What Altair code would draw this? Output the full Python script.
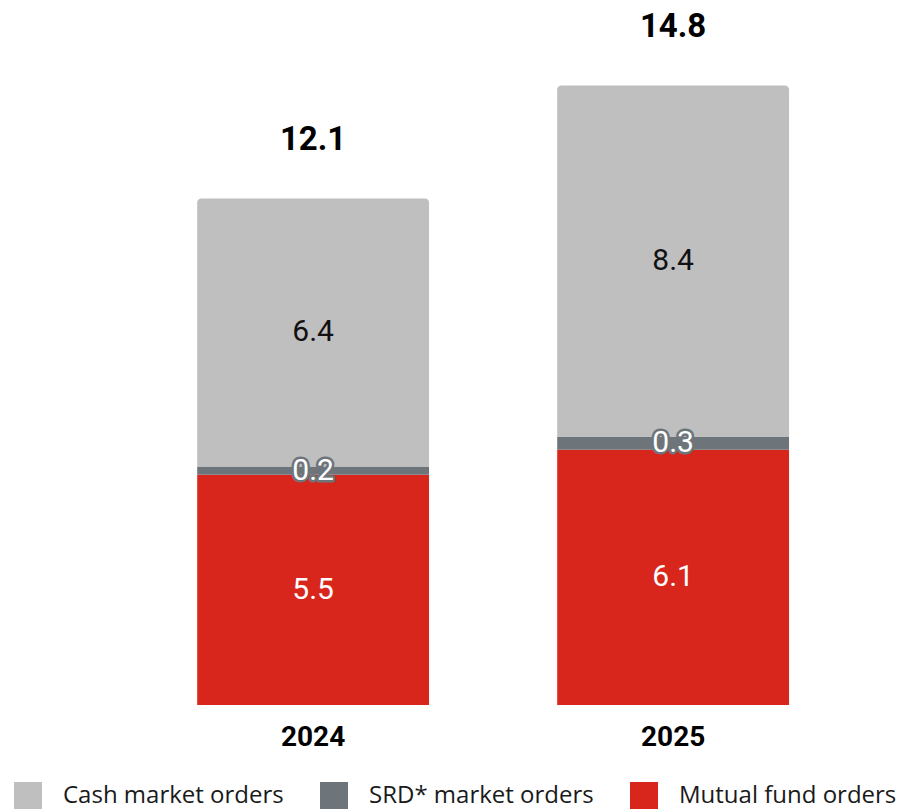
import altair as alt
import pandas as pd

years = ["2024", "2025"]
series = ["Cash market orders", "SRD* market orders", "Mutual fund orders"]
cash = [6.4, 8.4]
srd = [0.2, 0.3]
mutual = [5.5, 6.1]
colors = ["#bfbfbf", "#6e757a", "#d9261c"]

rows = []
for i, yr in enumerate(years):
    rows.append({"year": yr, "series": series[2], "value": mutual[i], "order": 0})
    rows.append({"year": yr, "series": series[1], "value": srd[i], "order": 1})
    rows.append({"year": yr, "series": series[0], "value": cash[i], "order": 2})
df = pd.DataFrame(rows)

xs = alt.Scale(paddingInner=0.356, paddingOuter=0.4238, align=0.62)
ys = alt.Scale(domain=[0, 16.65], nice=False, zero=True)

X = alt.X(
    "year:N", scale=xs, title=None, sort=years,
    axis=alt.Axis(domain=False, ticks=False, labelAngle=0, labelFont="Roboto",
                  labelFontSize=28, labelFontWeight="bold", labelColor="#000000",
                  labelPadding=18),
)

base = alt.Chart(df).transform_stack(
    stack="value", as_=["y0", "y1"], groupby=["year"], sort=[alt.SortField("order")]
).transform_calculate(mid="(datum.y0 + datum.y1) / 2")

color = alt.Color(
    "series:N",
    scale=alt.Scale(domain=series, range=colors),
    legend=alt.Legend(
        orient="none", legendX=6, legendY=774, direction="horizontal", title=None,
        symbolType="square", symbolSize=784, symbolStrokeWidth=0, symbolOpacity=1,
        labelFont="Open Sans", labelFontSize=24, labelColor="#1a1a1a",
        labelOffset=21, columnPadding=36, labelLimit=500, padding=0,
    ),
)

bars = base.transform_filter(alt.datum.series != series[0]).mark_bar().encode(
    x=X, y=alt.Y("y0:Q", scale=ys, axis=None), y2="y1:Q", color=color
)
bars_top = base.transform_filter(alt.datum.series == series[0]).mark_bar(
    cornerRadiusTopLeft=4, cornerRadiusTopRight=4
).encode(x=X, y=alt.Y("y0:Q", scale=ys, axis=None), y2="y1:Q", color=color)

def label(filt, **kw):
    return base.transform_filter(alt.datum.series == filt).mark_text(
        font="Roboto", fontSize=30, baseline="middle", **kw
    ).encode(x=X, y=alt.Y("mid:Q", scale=ys, axis=None),
             text=alt.Text("value:Q", format=".1f"))

lab_cash = label(series[0], color="#111111")
lab_mut = label(series[2], color="#ffffff")
lab_srd_halo = label(series[1], color="#ffffff", stroke="#6e757a", strokeWidth=5,
                     strokeJoin="round")
lab_srd = label(series[1], color="#ffffff")

totals = alt.Chart(df).transform_aggregate(
    total="sum(value)", groupby=["year"]
).mark_text(font="Roboto", fontSize=33, fontWeight="bold", dy=-58,
            baseline="middle", color="#000000").encode(
    x=X, y=alt.Y("total:Q", scale=ys, axis=None),
    text=alt.Text("total:Q", format=".1f"),
)

chart = alt.layer(bars, bars_top, lab_cash, lab_mut, lab_srd_halo, lab_srd, totals).properties(
    width=897, height=697, padding=0
).configure_view(stroke=None)

chart.save("out.html", embed_options={"renderer": "svg", "actions": False})
